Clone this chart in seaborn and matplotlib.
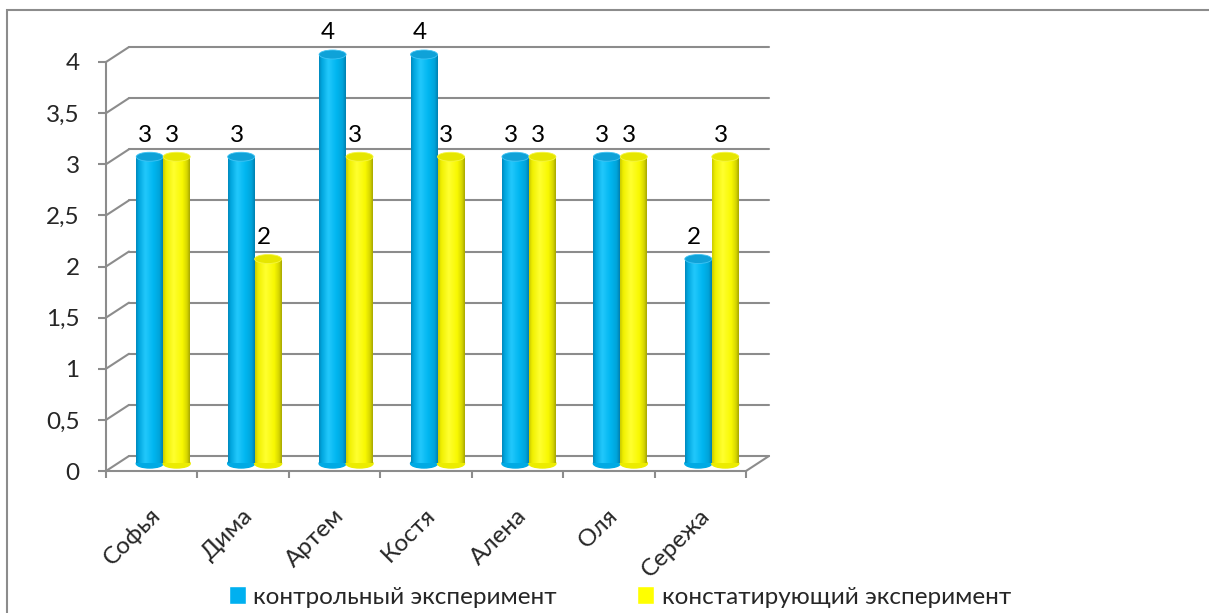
import numpy as np
import pandas as pd
import matplotlib
matplotlib.use('Agg')
import matplotlib.pyplot as plt
import matplotlib.transforms as mtrans
from matplotlib.patches import Rectangle, Ellipse, Patch
from matplotlib.colors import LinearSegmentedColormap
import seaborn as sb

# data
names = ['Софья', 'Дима', 'Артем', 'Костя', 'Алена', 'Оля', 'Сережа']
control = [3, 3, 4, 4, 3, 3, 2]
ascertain = [3, 2, 3, 3, 3, 3, 3]
series = ['контрольный эксперимент', 'констатирующий эксперимент']
yticks = [0, 0.5, 1, 1.5, 2, 2.5, 3, 3.5, 4]
ytick_labels = ['0', '0,5', '1', '1,5', '2', '2,5', '3', '3,5', '4']

df = pd.DataFrame({
    'name': names * 2,
    'value': control + ascertain,
    'series': [series[0]] * len(names) + [series[1]] * len(names),
})

sb.set_theme(style='white')
plt.rcParams['font.family'] = ['Lato', 'Open Sans', 'DejaVu Sans']
fs = 17.5
grid_c = '#8c8c8c'
blue, yellow = '#00B0F0', '#FFFF00'

W, H = 1209, 613
fig = plt.figure(figsize=(W / 100, H / 100), dpi=100)
ax = fig.add_axes([106 / W, (H - 471) / H, 640 / W, 409 / H])

sb.barplot(data=df, x='name', y='value', hue='series', palette=[blue, yellow],
           width=0.59, errorbar=None, saturation=1, legend=False, ax=ax)

# pseudo-3d depth (pixels) -> data units
sx, sy = 640 / 7, 409 / 4
dpx, dpy = 23, 15
bdx, bdy = dpx / sx, dpy / sy

# back wall gridlines + diagonals
for y in yticks:
    ax.plot([-0.5 + bdx, 6.5 + bdx], [y + bdy] * 2, color=grid_c, lw=1.5, clip_on=False, zorder=0.5)
    ax.plot([-0.5, -0.5 + bdx], [y, y + bdy], color=grid_c, lw=1.5, clip_on=False, zorder=0.5)
ax.plot([6.5, 6.5 + bdx], [0, bdy], color=grid_c, lw=1.5, clip_on=False, zorder=0.5)

# cylinders in the middle plane
mid = ax.transData + mtrans.ScaledTranslation(dpx / 200, dpy / 200, fig.dpi_scale_trans)
cm_blue = LinearSegmentedColormap.from_list('b', [(0, '#0086BA'), (0.1, '#00A6DE'), (0.35, '#22C8FC'),
                                                  (0.65, '#00B6F0'), (0.88, '#00A4DA'), (1, '#007EAE')])
cm_yel = LinearSegmentedColormap.from_list('y', [(0, '#C8C800'), (0.12, '#F0F000'), (0.4, '#FFFF30'),
                                                 (0.72, '#F8F800'), (0.9, '#D4D400'), (1, '#A4A400')])
grad = np.linspace(0, 1, 256).reshape(1, -1)
eh = 9 / sy
bars = list(ax.patches)
values = control + ascertain
for i, (p, v) in enumerate(zip(bars, values)):
    x, w, h = p.get_x(), p.get_width(), p.get_height()
    p.set_visible(False)
    is_blue = i < len(names)
    cmap = cm_blue if is_blue else cm_yel
    ax.add_patch(Ellipse((x + w / 2, 0), w, eh, transform=mid, color='#00AAE4' if is_blue else '#ECEC00',
                         zorder=2, clip_on=False))
    ax.imshow(grad, extent=(x, x + w, 0, h), transform=mid, cmap=cmap, aspect='auto',
              interpolation='bicubic', zorder=3, clip_on=False)
    ax.add_patch(Ellipse((x + w / 2, h), w, eh, transform=mid, color='#0FA2D8' if is_blue else '#E6E600',
                         ec='#40C4F4' if is_blue else '#F6F640', lw=0.6, zorder=4, clip_on=False))
    ax.annotate(str(v), (x + w / 2, h), xytext=(5, 21), textcoords='offset points', ha='center',
                va='center', fontsize=fs, color='black', annotation_clip=False)

ax.set_xlim(-0.5, 6.5)
ax.set_ylim(0, 4)

# front axes
for s in ['top', 'right']:
    ax.spines[s].set_visible(False)
for s in ['left', 'bottom']:
    ax.spines[s].set_color(grid_c)
    ax.spines[s].set_linewidth(1.5)
ax.set_yticks(yticks)
ax.set_yticklabels(ytick_labels, fontsize=fs)
ax.set_xticks(np.arange(-0.5, 7, 1))
ax.set_xticklabels([])
ax.tick_params(axis='y', direction='out', length=6, width=1.5, color=grid_c, pad=13, left=True)
ax.tick_params(axis='x', direction='out', length=5, width=1.5, color=grid_c, bottom=True)
ax.set_xlabel('')
ax.set_ylabel('')

lab_tr = ax.get_xaxis_transform() + mtrans.ScaledTranslation(6 / 100, -41 / 100, fig.dpi_scale_trans)
for i, n in enumerate(names):
    ax.text(i, 0, n, transform=lab_tr, rotation=45, ha='right', va='center',
            rotation_mode='anchor', fontsize=fs)

handles = [Patch(facecolor=blue), Patch(facecolor=yellow)]
fig.legend(handles, series, loc='center', bbox_to_anchor=(620 / W, 16 / H), ncol=2, frameon=False,
           fontsize=fs, handlelength=0.7, handleheight=0.7, handletextpad=0.3, columnspacing=3.3)

fig.patches.append(Rectangle((7 / W, -0.05), 1.1, (H - 10) / H + 0.05, transform=fig.transFigure,
                             fill=False, ec='#8c8c8c', lw=1.5))

fig.savefig('out.png', dpi=100)
